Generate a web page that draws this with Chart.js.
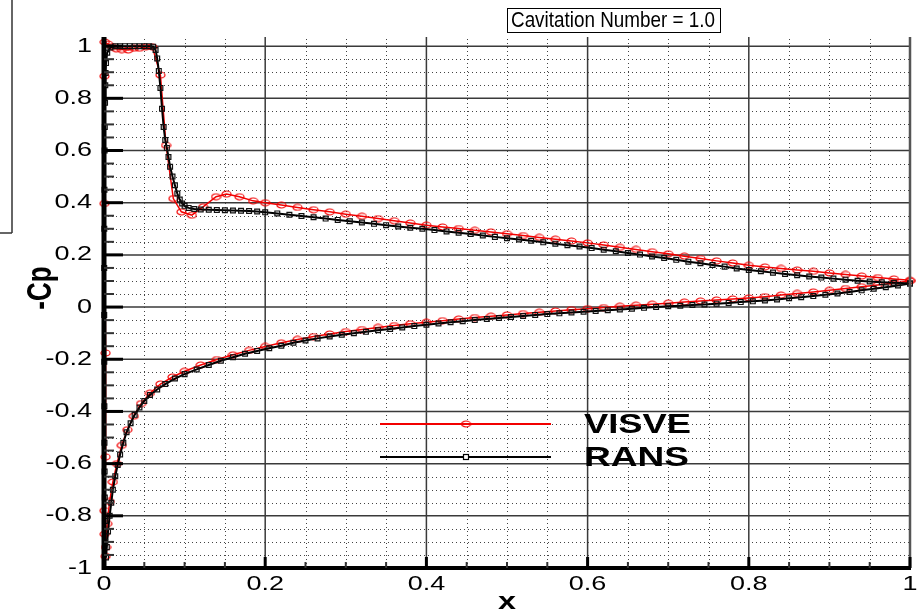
<!DOCTYPE html>
<html>
<head>
<meta charset="utf-8">
<script src="https://cdn.jsdelivr.net/npm/chart.js@4/dist/chart.umd.min.js"></script>
<style>
  html, body { margin: 0; padding: 0; background: #fff; }
  #wrap { position: relative; width: 920px; height: 616px; }
</style>
</head>
<body>
<div id="wrap"><canvas id="cpChart"></canvas></div>
<script>
// -Cp along the foil, [x, -Cp] pairs. Lower side runs trailing edge -> nose,
// upper side runs nose -> trailing edge, so each method draws as one closed loop.
const RANS_LOWER = [
  [1.000, 0.090], [0.985, 0.083], [0.970, 0.076], [0.955, 0.070], [0.940, 0.064],
  [0.925, 0.058], [0.910, 0.052], [0.895, 0.047], [0.880, 0.042], [0.865, 0.038],
  [0.850, 0.034], [0.835, 0.029], [0.820, 0.025], [0.805, 0.022], [0.790, 0.019],
  [0.775, 0.016], [0.760, 0.013], [0.745, 0.010], [0.730, 0.008], [0.715, 0.005],
  [0.700, 0.003], [0.685, 0.000], [0.670, -0.003], [0.655, -0.006], [0.640, -0.009],
  [0.625, -0.012], [0.610, -0.015], [0.595, -0.018], [0.580, -0.021], [0.565, -0.024],
  [0.550, -0.027], [0.535, -0.030], [0.520, -0.034], [0.505, -0.038], [0.490, -0.042],
  [0.475, -0.046], [0.460, -0.050], [0.445, -0.054], [0.430, -0.058], [0.415, -0.063],
  [0.400, -0.068], [0.385, -0.073], [0.370, -0.078], [0.355, -0.084], [0.340, -0.089],
  [0.325, -0.095], [0.310, -0.100], [0.295, -0.106], [0.280, -0.113], [0.265, -0.120],
  [0.250, -0.128], [0.235, -0.137], [0.220, -0.148], [0.205, -0.158], [0.190, -0.168],
  [0.175, -0.179], [0.160, -0.192], [0.145, -0.206], [0.130, -0.222], [0.115, -0.239],
  [0.100, -0.257], [0.088, -0.274], [0.076, -0.295], [0.066, -0.316], [0.057, -0.337],
  [0.050, -0.360], [0.044, -0.385], [0.038, -0.413], [0.033, -0.445], [0.028, -0.480],
  [0.024, -0.520], [0.020, -0.565], [0.017, -0.605], [0.014, -0.648], [0.011, -0.700],
  [0.009, -0.750], [0.007, -0.800], [0.005, -0.860], [0.0035, -0.920], [0.0025, -0.960],
  [0.0015, -0.900], [0.0012, -0.820], [0.0010, -0.730], [0.0008, -0.630], [0.0006, -0.520],
  [0.0005, -0.380], [0.0004, -0.210], [0.0003, -0.030]
];
const RANS_UPPER = [
  [0.0003, 0.150], [0.0004, 0.300], [0.0006, 0.450], [0.0008, 0.600], [0.0010, 0.690],
  [0.0013, 0.783], [0.0016, 0.850], [0.0020, 0.897], [0.0025, 0.935], [0.004, 0.975],
  [0.008, 0.995], [0.014, 1.000], [0.020, 1.000], [0.026, 1.000], [0.032, 1.000],
  [0.038, 1.000], [0.044, 1.000], [0.050, 1.000], [0.056, 1.000], [0.061, 0.998],
  [0.064, 0.985], [0.066, 0.953], [0.068, 0.905], [0.070, 0.840], [0.072, 0.760],
  [0.074, 0.690], [0.076, 0.640], [0.078, 0.610], [0.080, 0.575], [0.082, 0.538],
  [0.085, 0.500], [0.088, 0.467], [0.091, 0.435], [0.094, 0.412], [0.097, 0.397],
  [0.100, 0.388], [0.105, 0.380], [0.112, 0.376], [0.120, 0.374], [0.130, 0.373],
  [0.140, 0.372], [0.150, 0.371], [0.160, 0.370], [0.170, 0.369], [0.180, 0.368],
  [0.190, 0.366], [0.200, 0.363], [0.215, 0.359], [0.230, 0.354], [0.245, 0.349],
  [0.260, 0.344], [0.275, 0.339], [0.290, 0.334], [0.305, 0.329], [0.320, 0.324],
  [0.335, 0.319], [0.350, 0.314], [0.365, 0.309], [0.380, 0.304], [0.395, 0.300],
  [0.410, 0.295], [0.425, 0.290], [0.440, 0.285], [0.455, 0.280], [0.470, 0.274],
  [0.485, 0.269], [0.500, 0.264], [0.515, 0.259], [0.530, 0.254], [0.545, 0.248],
  [0.560, 0.243], [0.575, 0.237], [0.590, 0.232], [0.605, 0.226], [0.620, 0.220],
  [0.635, 0.214], [0.650, 0.207], [0.665, 0.201], [0.680, 0.194], [0.695, 0.188],
  [0.710, 0.181], [0.725, 0.174], [0.740, 0.168], [0.755, 0.161], [0.770, 0.155],
  [0.785, 0.148], [0.800, 0.142], [0.815, 0.137], [0.830, 0.132], [0.845, 0.127],
  [0.860, 0.122], [0.875, 0.117], [0.890, 0.113], [0.905, 0.109], [0.920, 0.105],
  [0.935, 0.101], [0.950, 0.098], [0.965, 0.095], [0.980, 0.093], [1.000, 0.090]
];
const VISVE_LOWER = [
  [1.000, 0.100], [0.980, 0.092], [0.960, 0.085], [0.940, 0.078], [0.920, 0.071],
  [0.900, 0.064], [0.880, 0.058], [0.860, 0.052], [0.840, 0.046], [0.820, 0.040],
  [0.800, 0.035], [0.780, 0.031], [0.760, 0.027], [0.740, 0.023], [0.720, 0.019],
  [0.700, 0.015], [0.680, 0.011], [0.660, 0.007], [0.640, 0.003], [0.620, -0.002],
  [0.600, -0.006], [0.580, -0.010], [0.560, -0.015], [0.540, -0.020], [0.520, -0.025],
  [0.500, -0.030], [0.480, -0.035], [0.460, -0.040], [0.440, -0.046], [0.420, -0.052],
  [0.400, -0.058], [0.380, -0.064], [0.360, -0.071], [0.340, -0.078], [0.320, -0.086],
  [0.300, -0.094], [0.280, -0.103], [0.260, -0.113], [0.240, -0.124], [0.220, -0.137],
  [0.200, -0.151], [0.180, -0.166], [0.160, -0.183], [0.140, -0.201], [0.120, -0.222],
  [0.100, -0.246], [0.085, -0.268], [0.070, -0.295], [0.057, -0.330], [0.046, -0.370],
  [0.037, -0.418], [0.029, -0.470], [0.022, -0.530], [0.016, -0.600], [0.011, -0.670],
  [0.007, -0.745], [0.004, -0.830], [0.0025, -0.920], [0.002, -0.955],
  [0.0008, -0.870], [0.0005, -0.780], [0.002, -0.574], [0.002, -0.176]
];
const VISVE_UPPER = [
  [0.0005, 0.397], [0.0005, 0.885], [0.001, 1.016], [0.005, 1.008], [0.010, 0.998],
  [0.015, 0.990], [0.022, 0.987], [0.030, 0.985], [0.037, 0.992], [0.044, 0.992],
  [0.052, 0.997], [0.060, 0.997], [0.070, 0.889], [0.077, 0.620], [0.086, 0.416],
  [0.096, 0.365], [0.109, 0.352], [0.123, 0.384], [0.139, 0.423], [0.152, 0.433],
  [0.168, 0.423], [0.185, 0.407], [0.200, 0.400], [0.220, 0.391], [0.240, 0.382],
  [0.260, 0.373], [0.280, 0.365], [0.300, 0.356], [0.320, 0.348], [0.340, 0.339],
  [0.360, 0.331], [0.380, 0.322], [0.400, 0.314], [0.420, 0.307], [0.440, 0.301],
  [0.460, 0.294], [0.480, 0.288], [0.500, 0.281], [0.520, 0.274], [0.540, 0.267],
  [0.560, 0.260], [0.580, 0.253], [0.600, 0.246], [0.620, 0.238], [0.640, 0.229],
  [0.660, 0.221], [0.680, 0.212], [0.700, 0.204], [0.720, 0.195], [0.740, 0.186],
  [0.760, 0.177], [0.780, 0.169], [0.800, 0.160], [0.820, 0.154], [0.840, 0.148],
  [0.860, 0.142], [0.880, 0.137], [0.900, 0.131], [0.920, 0.125], [0.940, 0.119],
  [0.960, 0.113], [0.980, 0.108], [1.000, 0.103]
];

const X_TICKS = [0, 0.2, 0.4, 0.6, 0.8, 1];
const X_LABELS = ['0', '0.2', '0.4', '0.6', '0.8', '1'];
const Y_TICKS = [-1, -0.8, -0.6, -0.4, -0.2, 0, 0.2, 0.4, 0.6, 0.8, 1];
const Y_LABELS = ['-1', '-0.8', '-0.6', '-0.4', '-0.2', '0', '0.2', '0.4', '0.6', '0.8', '1'];
const MINOR_STEP = 0.05;

const TITLE_TEXT = 'Cavitation Number = 1.0';
const SERIES_NAMES = ['VISVE', 'RANS'];
const RED = '#f20000';
const FONT = '"Liberation Sans", Arial, Helvetica, sans-serif';

const toPoints = arr => arr.map(p => ({ x: p[0], y: p[1] }));

// open ellipse marker, a bit wider than tall
function ellipseMarker(w, h, color) {
  const c = document.createElement('canvas');
  c.width = w + 2; c.height = h + 2;
  const g = c.getContext('2d');
  g.strokeStyle = color;
  g.lineWidth = 1.2;
  g.beginPath();
  g.ellipse(c.width / 2, c.height / 2, w / 2, h / 2, 0, 0, Math.PI * 2);
  g.stroke();
  return c;
}
const circleMark = ellipseMarker(9, 6, RED);

function stretchText(ctx, str, x, y, font, sx, align, baseline) {
  ctx.save();
  ctx.font = font;
  ctx.textAlign = align;
  ctx.textBaseline = baseline;
  ctx.translate(x, y);
  ctx.scale(sx, 1);
  ctx.fillText(str, 0, 0);
  ctx.restore();
}

function line(ctx, x1, y1, x2, y2) {
  ctx.beginPath();
  ctx.moveTo(x1, y1);
  ctx.lineTo(x2, y2);
  ctx.stroke();
}

const isMajor = v => Math.abs(v / 0.2 - Math.round(v / 0.2)) < 1e-6;

function minorValues(lo, hi) {
  const out = [];
  for (let i = Math.round(lo / MINOR_STEP); i * MINOR_STEP <= hi + 1e-9; i++) {
    const v = +(i * MINOR_STEP).toFixed(4);
    if (!isMajor(v)) out.push(v);
  }
  return out;
}

const tecFrame = {
  id: 'tecFrame',
  beforeDatasetsDraw(chart) {
    const { ctx, chartArea: a, scales: { x, y } } = chart;
    ctx.save();
    // dotted minor grid
    ctx.strokeStyle = '#444';
    ctx.lineWidth = 1;
    ctx.setLineDash([1, 3]);
    minorValues(0, 1).forEach(v => { const px = Math.round(x.getPixelForValue(v)) + 0.5; line(ctx, px, a.top + 2, px, a.bottom); });
    minorValues(-1, 1).forEach(v => { const py = Math.round(y.getPixelForValue(v)) + 0.5; line(ctx, a.left, py, a.right, py); });
    ctx.setLineDash([]);
    // solid major grid
    ctx.strokeStyle = '#3a3a3a';
    ctx.lineWidth = 1.5;
    X_TICKS.slice(1, -1).forEach(v => { const px = x.getPixelForValue(v); line(ctx, px, a.top, px, a.bottom); });
    Y_TICKS.slice(1).forEach(v => { const py = y.getPixelForValue(v); line(ctx, a.left, py, a.right, py); });
    ctx.restore();
  },
  afterDatasetsDraw(chart) {
    const { ctx, chartArea: a, scales: { x, y } } = chart;
    ctx.save();
    // right frame edge
    ctx.strokeStyle = '#555';
    ctx.lineWidth = 2.5;
    line(ctx, a.right, a.top, a.right, a.bottom);
    // axis lines
    ctx.strokeStyle = '#000';
    ctx.lineWidth = 5;
    line(ctx, a.left, a.top, a.left, a.bottom + 2);
    ctx.lineWidth = 4;
    line(ctx, a.left, a.bottom, a.right + 1, a.bottom);
    // ticks, pointing into the plot
    ctx.lineWidth = 3;
    Y_TICKS.forEach(v => { const py = y.getPixelForValue(v); line(ctx, a.left, py, a.left + 19, py); });
    X_TICKS.forEach(v => { const px = x.getPixelForValue(v); line(ctx, px, a.bottom, px, a.bottom - 11); });
    ctx.strokeStyle = '#333';
    ctx.lineWidth = 2;
    minorValues(-1, 1).forEach(v => { const py = y.getPixelForValue(v); line(ctx, a.left, py, a.left + 10, py); });
    minorValues(0, 1).forEach(v => { const px = x.getPixelForValue(v); line(ctx, px, a.bottom, px, a.bottom - 6); });

    // tick labels
    ctx.fillStyle = '#000';
    Y_TICKS.forEach((v, i) => stretchText(ctx, Y_LABELS[i], a.left - 12, y.getPixelForValue(v), '20px ' + FONT, 1.35, 'right', 'middle'));
    X_TICKS.forEach((v, i) => stretchText(ctx, X_LABELS[i], x.getPixelForValue(v), a.bottom + 16, '20px ' + FONT, 1.35, 'center', 'middle'));

    // axis titles
    stretchText(ctx, 'x', (a.left + a.right) / 2, 602, 'bold 24px ' + FONT, 1.35, 'center', 'middle');
    ctx.save();
    ctx.translate(41, 288);
    ctx.rotate(-Math.PI / 2);
    ctx.scale(1, 1.35);
    ctx.font = 'bold 26px ' + FONT;
    ctx.textAlign = 'center';
    ctx.textBaseline = 'middle';
    ctx.fillText('-Cp', 0, 0);
    ctx.restore();

    // boxed title
    ctx.strokeStyle = '#000';
    ctx.lineWidth = 1;
    ctx.strokeRect(507.5, 8.5, 213, 24);
    ctx.font = '22px ' + FONT;
    const tw = ctx.measureText(TITLE_TEXT).width;
    stretchText(ctx, TITLE_TEXT, 511, 21, '22px ' + FONT, 204 / tw, 'left', 'middle');

    // legend
    const lx0 = 380, lx1 = 551, lm = 466, ly = [424, 457];
    ctx.lineWidth = 2;
    ctx.strokeStyle = RED;
    line(ctx, lx0, ly[0], lx1, ly[0]);
    ctx.drawImage(circleMark, lm - circleMark.width / 2, ly[0] - circleMark.height / 2);
    ctx.strokeStyle = '#000';
    line(ctx, lx0, ly[1], lx1, ly[1]);
    ctx.lineWidth = 1.2;
    ctx.fillStyle = '#fff';
    ctx.fillRect(lm - 2.5, ly[1] - 2.5, 5, 5);
    ctx.strokeRect(lm - 2.5, ly[1] - 2.5, 5, 5);
    ctx.fillStyle = '#000';
    SERIES_NAMES.forEach((name, i) => {
      ctx.font = 'bold 28px ' + FONT;
      const w = ctx.measureText(name).width;
      stretchText(ctx, name, 584, ly[i] + 1, 'bold 28px ' + FONT, (i === 0 ? 107 : 105) / w, 'left', 'middle');
    });

    // partial frame at the far left
    ctx.strokeStyle = '#333';
    ctx.lineWidth = 1.5;
    line(ctx, 12, 0, 12, 233);
    line(ctx, 0, 233, 12, 233);
    ctx.restore();
  }
};

new Chart(document.getElementById('cpChart'), {
  type: 'scatter',
  data: {
    datasets: [
      {
        label: SERIES_NAMES[1],
        data: toPoints(RANS_LOWER.concat(RANS_UPPER)),
        showLine: true,
        borderColor: '#000',
        borderWidth: 2,
        pointStyle: 'rect',
        pointRadius: 3.4,
        pointBorderWidth: 1.2,
        pointBorderColor: '#111',
        pointBackgroundColor: 'rgba(255,255,255,0)',
        clip: false,
        order: 0,
      },
      {
        label: SERIES_NAMES[0],
        data: toPoints(VISVE_LOWER.concat(VISVE_UPPER)),
        showLine: true,
        borderColor: RED,
        borderWidth: 1.5,
        pointStyle: circleMark,
        pointRadius: 4,
        clip: false,
        order: 1,
      },
    ],
  },
  options: {
    responsive: true,
    maintainAspectRatio: false,
    animation: false,
    events: [],
    layout: { padding: { top: 37, right: 10, bottom: 0, left: 0 } },
    plugins: { legend: { display: false }, tooltip: { enabled: false } },
    scales: {
      x: {
        type: 'linear', min: 0, max: 1,
        ticks: { display: false },
        grid: { display: false },
        border: { display: false },
        afterFit: s => { s.height = 48; },
      },
      y: {
        type: 'linear', min: -1, max: 1.035,
        ticks: { display: false },
        grid: { display: false },
        border: { display: false },
        afterFit: s => { s.width = 104; },
      },
    },
  },
  plugins: [tecFrame],
});
</script>
</body>
</html>
